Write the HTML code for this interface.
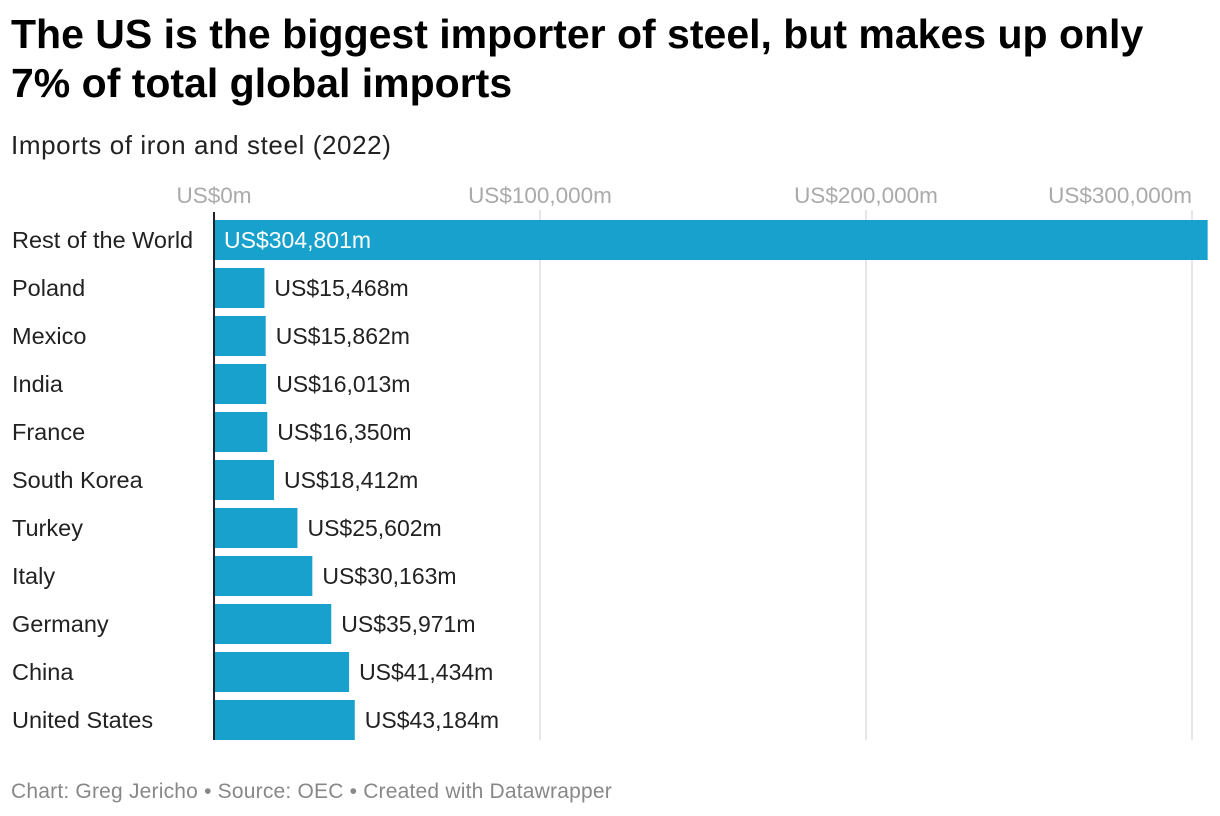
<!DOCTYPE html>
<html><head><meta charset="utf-8"><style>
body{margin:0;background:#fff;font-family:"Liberation Sans",Arial,sans-serif;}
#wrap{position:relative;width:1220px;height:816px;overflow:hidden;}
h1{position:absolute;left:11px;top:10px;margin:0;font-size:41px;line-height:49px;font-weight:bold;color:#000;width:1165px;}
#sub{position:absolute;left:11px;top:130px;font-size:26px;letter-spacing:0.6px;color:#222;}
#foot{position:absolute;left:11px;top:780px;font-size:21px;letter-spacing:0.2px;color:#888;}
</style></head><body><div id="wrap">
<h1>The US is the biggest importer of steel, but makes up only 7% of total global imports</h1>
<div id="sub">Imports of iron and steel (2022)</div>
<svg id="svg" width="1220" height="816" style="position:absolute;left:0;top:0"></svg>
<div id="foot">Chart: Greg Jericho • Source: OEC • Created with Datawrapper</div>
</div>
<script>
const categories=["Rest of the World","Poland","Mexico","India","France","South Korea","Turkey","Italy","Germany","China","United States"];
const values=[304801,15468,15862,16013,16350,18412,25602,30163,35971,41434,43184];
const ticks=[0,100000,200000,300000];
const tickLabels=["US$0m","US$100,000m","US$200,000m","US$300,000m"];
const NS="http://www.w3.org/2000/svg";
const svg=document.getElementById('svg');
const x0=214,pxPer=326/100000;
const x=v=>x0+v*pxPer;
const rowTop=i=>220+i*48;
function el(t,a){const e=document.createElementNS(NS,t);for(const k in a)e.setAttribute(k,a[k]);svg.appendChild(e);return e;}
const fmt=v=>"US$"+v.toLocaleString("en-US")+"m";
ticks.forEach((t,i)=>{
  if(i>0){const g=el('line',{x1:x(t),x2:x(t),y1:210,y2:740,stroke:'#ddd','stroke-width':1.5});
  
  }
  const last=i===ticks.length-1;
  const tl=el('text',{x:last?x(t):x(t),y:203,'text-anchor':last?'end':'middle','font-size':22.5,fill:'#aaa'});
  
  
  tl.textContent=tickLabels[i];
});
categories.forEach((c,i)=>{
  const y=rowTop(i),v=values[i],w=x(v)-x0;
  const b=el('rect',{x:x0,y:y,width:w,height:40,fill:'#18a1cd'});
  
  
  const l=el('text',{x:12,y:y+28,'font-size':23.5,fill:'#222'});
  
  
  l.textContent=c;
  const inside=w>200;
  const vl=el('text',{x:inside?x0+10:x(v)+10,y:y+28,'font-size':23,fill:inside?'#fff':'#222'});
  
  
  vl.textContent=fmt(v);
});
const ax=el('line',{x1:x0,x2:x0,y1:212,y2:740,stroke:'#222','stroke-width':2});


</script></body></html>
